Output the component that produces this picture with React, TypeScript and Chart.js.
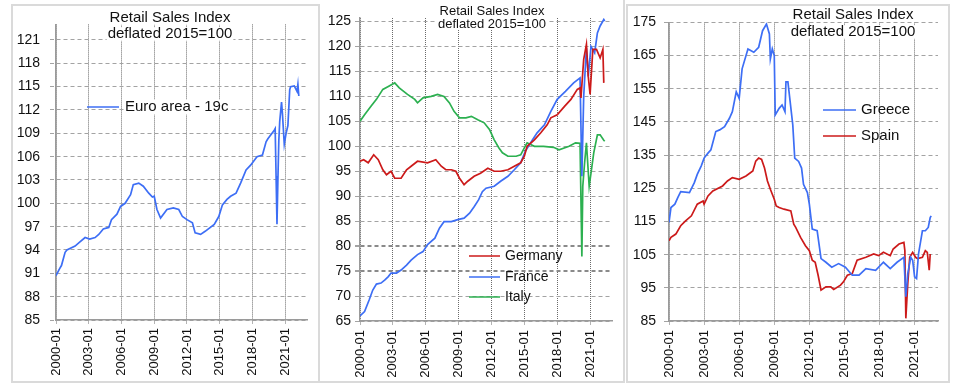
import React, { useEffect, useRef } from "react";
import { Chart, registerables } from "chart.js";

Chart.register(...registerables);

const FONT = '"Liberation Sans", Arial, Helvetica, sans-serif';

// ---------------- Data ----------------
const X_TICK_LABELS = ["2000-01", "2003-01", "2006-01", "2009-01", "2012-01", "2015-01", "2018-01", "2021-01"];
const X_END = "2023-01";

const TITLE_LINES = ["Retail Sales Index", "deflated 2015=100"];

// Panel 1 — Euro area
const EA_DATES = ["2000-01","2000-05","2000-07","2000-11","2001-01","2001-10","2002-03","2002-09","2003-02","2003-08","2003-12","2004-05","2004-11","2005-02","2005-08","2005-12","2006-05","2006-11","2007-02","2007-08","2008-01","2008-07","2008-11","2009-01","2009-04","2009-08","2010-03","2010-10","2011-04","2011-08","2012-01","2012-07","2012-10","2013-04","2013-09","2014-07","2014-12","2015-04","2015-09","2016-01","2016-07","2016-12","2017-06","2017-11","2018-06","2018-12","2019-04","2019-06","2020-01","2020-02","2020-03","2020-04","2020-05","2020-06","2020-07","2020-09","2020-10","2020-12","2021-02","2021-04","2021-06","2021-07","2021-11","2022-02","2022-03","2022-04"];
const EA_VALUES = [90.7,91.6,92.0,93.7,94.0,94.5,95.0,95.6,95.4,95.6,96.0,96.7,96.9,97.9,98.6,99.6,100.0,101.1,102.4,102.6,102.2,101.3,100.8,100.9,99.2,98.1,99.2,99.4,99.2,98.3,97.9,97.5,96.2,96.0,96.4,97.3,98.3,99.8,100.5,100.9,101.3,102.6,104.3,104.9,106.0,106.2,107.9,108.3,109.4,109.6,103.5,97.3,103.0,108.0,110.5,113.0,111.5,107.6,109.0,110.0,114.6,115.0,115.1,114.4,115.3,113.8];

// Panel 2 — Germany, France, Italy
const DE_DATES = ["2000-01","2000-05","2000-10","2001-04","2001-09","2002-02","2002-06","2002-11","2003-03","2003-10","2004-04","2004-09","2005-04","2006-03","2006-12","2007-06","2007-11","2008-05","2008-10","2009-02","2009-07","2009-11","2010-06","2011-01","2011-09","2012-04","2012-11","2013-07","2014-02","2014-09","2015-01","2015-04","2015-12","2016-07","2017-02","2017-06","2018-01","2018-09","2019-04","2019-11","2020-02","2020-03","2020-06","2020-09","2020-11","2021-01","2021-04","2021-08","2021-12","2022-03","2022-04"];
const DE_VALUES = [97.0,97.3,96.7,98.3,97.3,95.3,94.3,95.0,93.6,93.6,95.3,96.0,97.0,96.7,97.3,96.0,95.3,95.3,95.0,93.6,92.3,93.0,94.0,94.6,95.6,95.0,95.0,95.3,96.0,96.7,98.0,100.0,101.3,102.7,104.3,105.7,106.3,108.0,109.4,111.4,111.7,109.7,117.4,120.4,114.0,110.4,119.4,119.4,117.7,119.4,112.7];

const FR_DATES = ["2000-01","2000-06","2000-11","2001-03","2001-07","2001-12","2002-04","2002-08","2002-11","2003-05","2003-10","2004-04","2004-09","2005-04","2005-10","2006-03","2006-11","2007-04","2007-09","2008-05","2008-12","2009-07","2010-01","2010-06","2010-11","2011-03","2011-07","2012-04","2012-11","2013-07","2014-02","2014-09","2015-02","2015-10","2016-03","2016-11","2017-06","2018-01","2018-10","2019-07","2020-02","2020-04","2020-06","2020-09","2020-11","2021-02","2021-06","2021-09","2021-12","2022-04","2022-05"];
const FR_VALUES = [66.0,66.9,69.2,71.2,72.4,72.6,73.2,73.9,74.6,74.6,75.2,76.2,77.2,78.3,78.9,80.3,81.6,83.6,84.9,84.9,85.3,85.6,86.6,87.9,89.3,90.9,91.6,92.0,93.0,94.0,95.3,96.7,99.0,101.3,102.7,104.3,107.0,109.4,111.0,112.7,113.7,94.0,110.0,119.7,114.0,120.0,118.7,122.7,124.1,125.4,125.1];

const IT_DATES = ["2000-01","2000-06","2001-01","2001-07","2002-02","2002-08","2003-03","2003-08","2004-05","2005-01","2005-04","2005-10","2006-07","2007-02","2007-09","2008-03","2008-08","2009-02","2009-09","2010-03","2010-10","2011-05","2011-11","2012-04","2012-09","2013-01","2013-07","2014-04","2014-09","2015-01","2015-04","2015-12","2016-10","2017-09","2018-03","2019-02","2019-09","2020-02","2020-04","2020-05","2020-07","2020-09","2020-12","2021-02","2021-05","2021-09","2021-12","2022-04","2022-05"];
const IT_VALUES = [105.0,106.3,108.0,109.4,111.4,112.0,112.7,111.7,110.4,109.4,108.7,109.7,110.0,110.4,110.0,108.7,107.0,105.7,105.7,106.0,105.3,104.7,103.3,101.3,99.7,98.7,98.0,98.0,98.3,99.7,100.7,100.0,100.0,99.8,99.3,100.0,100.7,100.6,77.9,92.0,96.7,100.7,92.0,94.6,98.7,102.3,102.3,101.2,101.0];

// Panel 3 — Greece, Spain
const GR_DATES = ["2000-01","2000-03","2000-07","2000-10","2001-01","2001-10","2002-03","2002-06","2002-10","2003-01","2003-05","2003-08","2004-01","2004-05","2004-10","2005-03","2005-06","2005-10","2006-01","2006-04","2006-10","2007-04","2007-09","2008-01","2008-05","2008-08","2008-09","2008-11","2009-01","2009-02","2009-06","2009-09","2009-12","2010-01","2010-03","2010-08","2010-10","2011-02","2011-05","2011-07","2011-11","2012-01","2012-04","2012-09","2013-01","2013-06","2013-12","2014-07","2015-02","2015-09","2016-04","2016-11","2017-09","2018-05","2018-12","2019-07","2020-02","2020-04","2020-06","2020-09","2020-11","2021-01","2021-03","2021-05","2021-09","2021-12","2022-03","2022-05","2022-06"];
const GR_VALUES = [114.7,119.2,120.2,122.2,124.0,123.7,126.7,129.2,131.7,134.1,135.6,136.6,142.1,142.6,143.6,146.1,148.1,154.1,152.1,161.0,167.0,166.0,167.5,172.5,174.5,171.5,164.0,167.0,165.0,147.1,149.1,150.1,148.1,157.1,157.1,144.1,134.1,133.1,131.1,126.2,123.7,120.2,112.7,112.2,103.8,102.7,101.2,102.3,101.2,98.8,98.8,100.8,100.3,102.7,100.8,102.7,104.2,92.3,99.3,104.2,103.3,98.3,97.8,105.2,112.2,112.2,113.2,116.2,116.7];

const ES_DATES = ["2000-01","2000-03","2000-08","2001-01","2001-06","2001-12","2002-06","2002-12","2003-01","2003-05","2003-10","2004-08","2005-01","2005-06","2006-01","2006-08","2007-03","2007-06","2007-09","2007-12","2008-03","2008-06","2008-09","2009-01","2009-03","2009-06","2009-11","2010-06","2010-09","2010-11","2011-04","2011-09","2012-01","2012-04","2012-07","2012-10","2013-01","2013-06","2013-11","2014-02","2014-09","2014-12","2015-04","2015-09","2016-02","2016-11","2017-07","2017-12","2018-05","2018-12","2019-03","2019-09","2020-02","2020-03","2020-04","2020-06","2020-08","2020-11","2021-02","2021-04","2021-09","2021-12","2022-02","2022-04","2022-05"];
const ES_VALUES = [109.2,110.2,111.2,113.7,115.2,116.7,120.2,121.2,120.2,122.7,124.2,125.7,127.2,128.2,127.7,128.7,130.2,133.2,134.1,133.7,131.1,127.2,124.7,121.7,119.7,119.2,118.7,118.2,114.2,113.2,110.2,107.7,106.2,103.3,102.7,98.8,94.3,95.3,95.3,94.5,95.8,96.8,98.8,99.3,103.3,104.2,105.2,104.7,105.7,104.7,106.7,108.2,108.7,106.2,85.8,96.3,104.2,105.7,104.2,103.8,104.2,106.2,105.7,100.3,105.2];

const P1_Y_TICKS = [85, 88, 91, 94, 97, 100, 103, 106, 109, 112, 115, 118, 121];
const P2_Y_TICKS = [65, 70, 75, 80, 85, 90, 95, 100, 105, 110, 115, 120, 125];
const P3_Y_TICKS = [85, 95, 105, 115, 125, 135, 145, 155, 165, 175];

const BLUE = "#3d6ef5";
const RED = "#cc1a1a";
const GREEN = "#2cb050";

// ---------------- Helpers ----------------
function monthIndex(d: string): number {
  const [y, m] = d.split("-").map(Number);
  return (y - 2000) * 12 + (m - 1);
}
function toPoints(dates: string[], values: number[]) {
  return dates.map((d, i) => ({ x: monthIndex(d), y: values[i] }));
}

type Series = { label: string; color: string; dates: string[]; values: number[] };
type PanelCfg = {
  id: string;
  canvas: { left: number; top: number; width: number; height: number };
  area: { left: number; top: number; right: number; bottom: number };
  yMin: number;
  yMax: number;
  yTicks: number[];
  yTickLen: number;
  yPad: number;
  xPad: number;
  boldY?: number[];
  series: Series[];
  title: { x: number; ys: number[]; size: number };
  legend: { x1: number; x2: number; textX: number; ys: number[]; size: number; bg: boolean };
};

const PANELS: PanelCfg[] = [
  {
    id: "p1",
    canvas: { left: 13, top: 6, width: 305, height: 376 },
    area: { left: 56, top: 21, right: 307, bottom: 320 },
    yMin: 85, yMax: 123, yTicks: P1_Y_TICKS, yTickLen: 6, yPad: 10, xPad: 4,
    series: [{ label: "Euro area - 19c", color: BLUE, dates: EA_DATES, values: EA_VALUES }],
    title: { x: 170, ys: [18, 34], size: 15 },
    legend: { x1: 87, x2: 119, textX: 125, ys: [107], size: 15, bg: true },
  },
  {
    id: "p2",
    canvas: { left: 321, top: 0, width: 302, height: 381 },
    area: { left: 360, top: 18, right: 612, bottom: 321 },
    yMin: 65, yMax: 125.7, yTicks: P2_Y_TICKS, yTickLen: 5, yPad: 4, xPad: 5,
    boldY: [75, 80],
    series: [
      { label: "Germany", color: RED, dates: DE_DATES, values: DE_VALUES },
      { label: "France", color: BLUE, dates: FR_DATES, values: FR_VALUES },
      { label: "Italy", color: GREEN, dates: IT_DATES, values: IT_VALUES },
    ],
    title: { x: 492, ys: [11, 24], size: 13 },
    legend: { x1: 469, x2: 500, textX: 505, ys: [256, 277, 297], size: 14, bg: false },
  },
  {
    id: "p3",
    canvas: { left: 628, top: 6, width: 320, height: 375 },
    area: { left: 669, top: 20, right: 938, bottom: 321 },
    yMin: 85, yMax: 175, yTicks: P3_Y_TICKS, yTickLen: 5, yPad: 8, xPad: 5,
    series: [
      { label: "Greece", color: BLUE, dates: GR_DATES, values: GR_VALUES },
      { label: "Spain", color: RED, dates: ES_DATES, values: ES_VALUES },
    ],
    title: { x: 853, ys: [15, 32], size: 15 },
    legend: { x1: 823, x2: 856, textX: 861, ys: [110, 136], size: 15, bg: false },
  },
];

function Panel({ cfg }: { cfg: PanelCfg }) {
  const ref = useRef<HTMLCanvasElement>(null);

  useEffect(() => {
    const canvas = ref.current;
    if (!canvas) return;
    const offX = cfg.canvas.left;
    const offY = cfg.canvas.top;
    const yAxisWidth = cfg.area.left - offX;
    const xAxisHeight = offY + cfg.canvas.height - cfg.area.bottom;

    const overlay = {
      id: "overlay_" + cfg.id,
      afterDraw(chart: any) {
        const ctx = chart.ctx as CanvasRenderingContext2D;
        ctx.save();
        // title
        ctx.font = `${cfg.title.size}px ${FONT}`;
        ctx.textAlign = "center";
        ctx.textBaseline = "middle";
        TITLE_LINES.forEach((t, i) => {
          const w = ctx.measureText(t).width;
          ctx.fillStyle = "#ffffff";
          ctx.fillRect(cfg.title.x - offX - w / 2 - 1, cfg.title.ys[i] - offY - cfg.title.size * 0.45, w + 2, cfg.title.size * 0.9);
        });
        ctx.fillStyle = "#111111";
        TITLE_LINES.forEach((t, i) => ctx.fillText(t, cfg.title.x - offX, cfg.title.ys[i] - offY));
        // legend
        ctx.font = `${cfg.legend.size}px ${FONT}`;
        ctx.textAlign = "left";
        cfg.series.forEach((s, i) => {
          const y = cfg.legend.ys[i] - offY;
          ctx.strokeStyle = s.color;
          ctx.lineWidth = 1.5;
          ctx.setLineDash([]);
          ctx.beginPath();
          ctx.moveTo(cfg.legend.x1 - offX, y);
          ctx.lineTo(cfg.legend.x2 - offX, y);
          ctx.stroke();
          if (cfg.legend.bg) {
            const w = ctx.measureText(s.label).width;
            ctx.fillStyle = "#ffffff";
            ctx.fillRect(cfg.legend.textX - offX - 1, y - cfg.legend.size * 0.5, w + 2, cfg.legend.size);
          }
          ctx.fillStyle = "#111111";
          ctx.fillText(s.label, cfg.legend.textX - offX, y);
        });
        ctx.restore();
      },
    };

    const chart = new Chart(canvas, {
      type: "line",
      data: {
        datasets: cfg.series.map((s) => ({
          label: s.label,
          data: toPoints(s.dates, s.values),
          borderColor: s.color,
          backgroundColor: s.color,
          borderWidth: 1.7,
          pointRadius: 0,
          tension: 0,
          fill: false,
        })),
      },
      options: {
        responsive: false,
        animation: false,
        events: [],
        layout: {
          padding: {
            left: 0,
            top: cfg.area.top - offY,
            right: offX + cfg.canvas.width - cfg.area.right,
            bottom: 0,
          },
        },
        plugins: {
          legend: { display: false },
          tooltip: { enabled: false },
          title: { display: false },
        },
        scales: {
          x: {
            type: "linear",
            min: 0,
            max: monthIndex(X_END),
            afterBuildTicks: (axis: any) => {
              axis.ticks = X_TICK_LABELS.map((l) => ({ value: monthIndex(l) }));
            },
            afterFit: (axis: any) => {
              axis.height = xAxisHeight;
            },
            ticks: {
              autoSkip: false,
              minRotation: 90,
              maxRotation: 90,
              padding: cfg.xPad,
              color: "#111111",
              font: { family: FONT, size: 13 },
              callback: (_v: any, i: number) => X_TICK_LABELS[i],
            },
            grid: {
              color: "#6a6a6a",
              lineWidth: 1,
              tickLength: 4,
              tickColor: "#6a6a6a",
              tickBorderDash: [1, 1],
            },
            border: { display: true, color: "#9a9a9a", width: 1.5, dash: [1, 1] },
          },
          y: {
            type: "linear",
            min: cfg.yMin,
            max: cfg.yMax,
            afterBuildTicks: (axis: any) => {
              axis.ticks = cfg.yTicks.map((v) => ({ value: v }));
            },
            afterFit: (axis: any) => {
              axis.width = yAxisWidth;
            },
            ticks: {
              padding: cfg.yPad,
              color: "#111111",
              font: { family: FONT, size: 14 },
              callback: (v: any) => String(v),
            },
            grid: {
              color: (c: any) => (cfg.boldY && c.tick && cfg.boldY.includes(c.tick.value) ? "#8a8a8a" : "#a3a3a3"),
              lineWidth: (c: any) => (cfg.boldY && c.tick && cfg.boldY.includes(c.tick.value) ? 2 : 1),
              tickLength: cfg.yTickLen,
              tickColor: "#a3a3a3",
              tickBorderDash: [4, 3],
            },
            border: { display: true, color: "#9a9a9a", width: 1.5, dash: [4, 3] },
          },
        },
      } as any,
      plugins: [overlay],
    });
    return () => chart.destroy();
  }, [cfg]);

  return (
    <canvas
      ref={ref}
      width={cfg.canvas.width}
      height={cfg.canvas.height}
      style={{
        position: "absolute",
        left: cfg.canvas.left,
        top: cfg.canvas.top,
        width: cfg.canvas.width,
        height: cfg.canvas.height,
      }}
    />
  );
}

export default function App() {
  const border = "2px solid #dadada";
  return (
    <div
      style={{
        position: "fixed",
        left: 0,
        top: 0,
        width: 960,
        height: 387,
        background: "#ffffff",
        overflow: "hidden",
      }}
    >
      <div style={{ position: "absolute", left: 11, top: 4, width: 309, height: 379, border, boxSizing: "border-box" }} />
      <div style={{ position: "absolute", left: 320, top: -4, width: 305, height: 387, borderRight: border, borderBottom: border, boxSizing: "border-box" }} />
      <div style={{ position: "absolute", left: 626, top: 4, width: 324, height: 379, border, boxSizing: "border-box" }} />
      {PANELS.map((p) => (
        <Panel key={p.id} cfg={p} />
      ))}
    </div>
  );
}
